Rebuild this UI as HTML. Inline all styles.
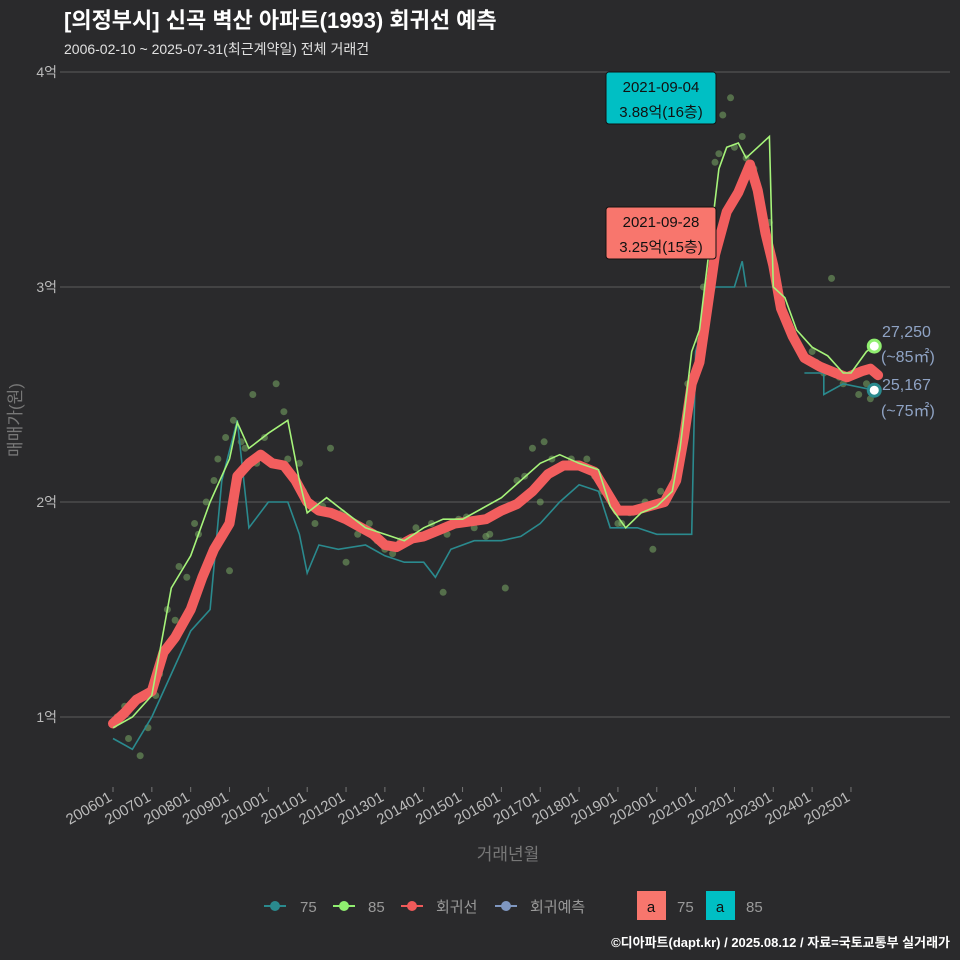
<!DOCTYPE html>
<html><head><meta charset="utf-8">
<style>
body{margin:0;background:#2a2a2c;}
svg{display:block;font-family:"Liberation Sans","Noto Sans CJK KR",sans-serif;}
</style></head>
<body>
<svg id="chart" width="960" height="960" viewBox="0 0 960 960">
<rect width="960" height="960" fill="#2a2a2c"/>
<text x="64" y="28" font-size="22" font-weight="bold" fill="#ffffff">[의정부시] 신곡 벽산 아파트(1993) 회귀선 예측</text>
<text x="64" y="54" font-size="14" fill="#e0e0e0">2006-02-10 ~ 2025-07-31(최근계약일) 전체 거래건</text>
<g id="grid"></g>
<g id="marks"></g>
<text transform="translate(21,420) rotate(-90)" text-anchor="middle" font-size="17" fill="#777">매매가(원)</text>
<text x="508" y="860" text-anchor="middle" font-size="17" fill="#777">거래년월</text>
<g>
<rect x="606" y="72" width="110" height="52" rx="3" fill="#00bfc4" stroke="#111" stroke-width="1"/>
<text x="661" y="92" text-anchor="middle" font-size="15" fill="#111">2021-09-04</text>
<text x="661" y="117" text-anchor="middle" font-size="15" fill="#111">3.88억(16층)</text>
</g>
<g>
<rect x="606" y="207" width="110" height="52" rx="3" fill="#f8766d" stroke="#111" stroke-width="1"/>
<text x="661" y="227" text-anchor="middle" font-size="15" fill="#111">2021-09-28</text>
<text x="661" y="252" text-anchor="middle" font-size="15" fill="#111">3.25억(15층)</text>
</g>
<g font-size="16" fill="#8fa3c4">
<text x="882" y="337">27,250</text><text x="881" y="362">(~85㎡)</text>
<text x="882" y="390">25,167</text><text x="881" y="416">(~75㎡)</text>
</g>
<g font-size="15" fill="#999">
<g><line x1="264" y1="906" x2="286" y2="906" stroke="#2a8a8e" stroke-width="2"/><circle cx="275" cy="906" r="5" fill="#2a8a8e"/><text x="300" y="912">75</text></g>
<g><line x1="333" y1="906" x2="355" y2="906" stroke="#90ee70" stroke-width="2"/><circle cx="344" cy="906" r="5" fill="#90ee70"/><text x="368" y="912">85</text></g>
<g><line x1="401" y1="906" x2="423" y2="906" stroke="#f05a5a" stroke-width="2"/><circle cx="412" cy="906" r="5" fill="#f05a5a"/><text x="436" y="912">회귀선</text></g>
<g><line x1="495" y1="906" x2="517" y2="906" stroke="#7f97c0" stroke-width="2"/><circle cx="506" cy="906" r="5" fill="#7f97c0"/><text x="530" y="912">회귀예측</text></g>
<g><rect x="637" y="891" width="29" height="29" fill="#f8766d"/><text x="651" y="912" text-anchor="middle" fill="#111">a</text><text x="677" y="912">75</text></g>
<g><rect x="706" y="891" width="29" height="29" fill="#00bfc4"/><text x="720" y="912" text-anchor="middle" fill="#111">a</text><text x="746" y="912">85</text></g>
</g>
<text x="950" y="947" text-anchor="end" font-size="13" font-weight="bold" fill="#ffffff">©디아파트(dapt.kr) / 2025.08.12 / 자료=국토교통부 실거래가</text>
</svg>
<script>
const yTicks=[1,2,3,4];
const yTickLabels=["1억","2억","3억","4억"];
const xTickYears=[2006,2007,2008,2009,2010,2011,2012,2013,2014,2015,2016,2017,2018,2019,2020,2021,2022,2023,2024,2025];
const xTickLabels=["200601","200701","200801","200901","201001","201101","201201","201301","201401","201501","201601","201701","201801","201901","202001","202101","202201","202301","202401","202501"];
const regT=[2006.0,2006.3,2006.6,2007.0,2007.3,2007.6,2008.0,2008.3,2008.6,2009.0,2009.2,2009.5,2009.8,2010.1,2010.4,2010.7,2011.0,2011.3,2011.6,2012.0,2012.3,2012.7,2013.0,2013.3,2013.7,2014.0,2014.4,2014.8,2015.2,2015.6,2016.0,2016.4,2016.8,2017.2,2017.6,2018.0,2018.4,2018.8,2019.0,2019.4,2019.8,2020.2,2020.5,2020.7,2020.9,2021.1,2021.3,2021.5,2021.8,2022.1,2022.4,2022.6,2022.8,2023.0,2023.2,2023.5,2023.8,2024.2,2024.6,2024.9,2025.3,2025.5,2025.7];
const regV=[0.97,1.02,1.08,1.12,1.3,1.37,1.5,1.65,1.78,1.9,2.12,2.18,2.22,2.18,2.17,2.1,2.0,1.96,1.95,1.92,1.89,1.85,1.8,1.79,1.83,1.84,1.87,1.9,1.91,1.92,1.96,1.99,2.05,2.13,2.17,2.17,2.14,2.02,1.96,1.96,1.98,2.0,2.1,2.3,2.55,2.65,2.9,3.15,3.35,3.44,3.57,3.45,3.25,3.1,2.9,2.77,2.67,2.63,2.6,2.58,2.61,2.62,2.59];
const s85T=[2006.0,2006.5,2007.0,2007.5,2008.0,2008.5,2009.0,2009.2,2009.5,2010.0,2010.5,2010.8,2011.0,2011.5,2012.0,2012.5,2013.0,2013.5,2014.0,2014.5,2015.0,2015.5,2016.0,2016.5,2017.0,2017.5,2018.0,2018.5,2018.8,2019.2,2019.6,2020.0,2020.4,2020.6,2020.9,2021.1,2021.3,2021.6,2021.8,2022.1,2022.3,2022.6,2022.9,2023.0,2023.3,2023.6,2024.0,2024.4,2024.8,2025.0,2025.4,2025.6];
const s85V=[0.95,1.0,1.1,1.6,1.75,2.0,2.2,2.37,2.25,2.32,2.38,2.1,1.95,2.02,1.95,1.88,1.85,1.82,1.88,1.92,1.92,1.97,2.02,2.1,2.18,2.22,2.18,2.15,1.98,1.88,1.95,1.98,2.05,2.25,2.7,2.8,3.1,3.55,3.65,3.67,3.6,3.65,3.7,3.0,2.95,2.8,2.72,2.68,2.6,2.6,2.7,2.725];
const s75T=[2006.0,2006.5,2007.0,2007.5,2008.0,2008.5,2008.8,2009.2,2009.5,2010.0,2010.5,2010.8,2011.0,2011.3,2011.8,2012.5,2013.0,2013.5,2014.0,2014.3,2014.7,2015.3,2016.0,2016.5,2017.0,2017.5,2018.0,2018.5,2018.8,2019.5,2020.0,2020.5,2020.9,2021.0,2021.5,2022.0,2022.2,2022.3];
const s75V=[0.9,0.85,1.0,1.2,1.4,1.5,2.1,2.38,1.88,2.0,2.0,1.85,1.67,1.8,1.78,1.8,1.75,1.72,1.72,1.65,1.78,1.82,1.82,1.84,1.9,2.0,2.08,2.05,1.88,1.88,1.85,1.85,1.85,2.7,3.0,3.0,3.12,3.0];
const s75bT=[2023.8,2024.3,2024.3,2024.8,2025.6];
const s75bV=[2.6,2.6,2.5,2.55,2.52];
const dotT=[2006.1,2006.4,2006.7,2007.1,2007.4,2007.7,2007.9,2008.2,2008.4,2008.7,2008.9,2009.1,2009.4,2009.6,2009.9,2010.2,2010.5,2010.9,2011.2,2011.6,2011.9,2012.3,2012.6,2013.0,2013.4,2013.8,2014.2,2014.5,2014.9,2015.3,2015.7,2016.1,2016.4,2016.8,2017.1,2017.4,2017.8,2018.2,2018.6,2019.0,2019.3,2019.7,2020.1,2020.5,2020.8,2021.2,2021.5,2021.7,2021.9,2022.0,2022.3,2022.5,2022.9,2023.3,2023.6,2024.0,2024.3,2024.5,2024.8,2025.2,2025.5,2009.0,2012.0,2015.6,2017.0,2019.9,2006.3,2006.9,2007.2,2007.6,2008.1,2008.6,2009.3,2009.7,2010.4,2010.8,2011.4,2012.8,2013.2,2014.6,2015.1,2016.6,2017.3,2018.4,2019.1,2020.3,2021.1,2021.6,2022.2,2023.1,2024.1,2024.7,2025.4];
const dotV=[1.0,0.9,0.82,1.1,1.5,1.7,1.65,1.85,2.0,2.2,2.3,2.38,2.25,2.5,2.3,2.55,2.2,2.05,1.9,2.25,1.95,1.85,1.9,1.78,1.82,1.88,1.9,1.58,1.92,1.88,1.85,1.6,2.1,2.25,2.28,2.15,2.2,2.2,2.05,1.9,1.95,2.0,2.05,2.1,2.55,3.0,3.58,3.8,3.88,3.65,3.6,3.55,3.3,2.85,2.75,2.7,2.6,3.04,2.55,2.5,2.48,1.68,1.72,1.84,2.0,1.78,1.05,0.95,1.2,1.45,1.9,2.1,2.28,2.18,2.42,2.18,1.98,1.82,1.76,1.85,1.93,2.12,2.2,2.12,1.9,2.02,2.75,3.62,3.7,3.02,2.65,2.58,2.55];
const NS="http://www.w3.org/2000/svg";
function X(t){return 113+(t-2006)*38.84;}
function Y(v){return 717-(v-1)*215;}
const grid=document.getElementById('grid'),marks=document.getElementById('marks');
function mk(tag,attrs,parent){const e=document.createElementNS(NS,tag);for(const k in attrs)e.setAttribute(k,attrs[k]);parent.appendChild(e);return e;}
yTicks.forEach((v,i)=>{
 const l=mk('line',{x1:60,x2:950,y1:Y(v),y2:Y(v),stroke:'#5c5c5c','stroke-width':1},grid);
 
 
 const t=mk('text',{x:57,y:Y(v)+5,'text-anchor':'end','font-size':14,fill:'#bbb'},grid);
 t.textContent=yTickLabels[i];
 
 
});
xTickYears.forEach((yr,i)=>{
 const x=X(yr);
 const tk=mk('line',{x1:x,x2:x,y1:787,y2:792,stroke:'#777'},grid);
 
 
 const t=mk('text',{x:x,y:800,'text-anchor':'end','font-size':15,fill:'#bbb',transform:`rotate(-30 ${x} 800)`},grid);
 t.textContent=xTickLabels[i];
 
 
});
dotT.forEach((t,i)=>{
 const c=mk('circle',{cx:X(t),cy:Y(dotV[i]),r:3.5,fill:'#7fb36a','fill-opacity':0.5},marks);
 
 
});
function path(T,V){return T.map((t,i)=>(i?'L':'M')+X(t).toFixed(1)+','+Y(V[i]).toFixed(1)).join('');}
const p75=mk('path',{d:path(s75T,s75V),fill:'none',stroke:'#2a8a8e','stroke-width':1.6},marks);


const p75b=mk('path',{d:path(s75bT,s75bV),fill:'none',stroke:'#2a8a8e','stroke-width':1.6},marks);


const preg=mk('path',{d:path(regT,regV),fill:'none',stroke:'#f25e5e','stroke-width':10,'stroke-linejoin':'round','stroke-linecap':'round'},marks);


const p85=mk('path',{d:path(s85T,s85V),fill:'none',stroke:'#a6f47a','stroke-width':1.6},marks);


const e85=mk('circle',{cx:X(s85T[s85T.length-1]),cy:Y(s85V[s85V.length-1]),r:6,fill:'#fff',stroke:'#90ee70','stroke-width':3},marks);


const e75=mk('circle',{cx:X(s75bT[s75bT.length-1]),cy:Y(s75bV[s75bV.length-1]),r:6,fill:'#fff',stroke:'#2a8a8e','stroke-width':3},marks);


</script>
</body></html>
